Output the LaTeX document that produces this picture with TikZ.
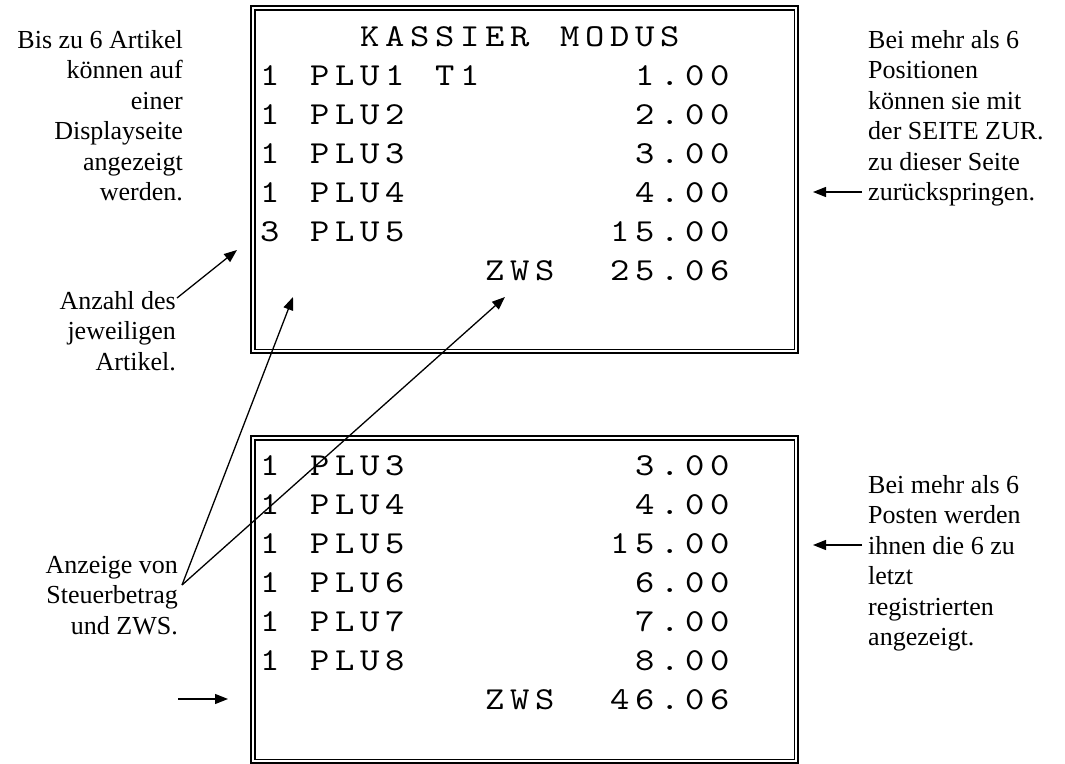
\documentclass[tikz,border=0pt]{standalone}
\usepackage{fontspec}
\setmainfont{Liberation Serif}
\newfontfamily\lcdfont{lmmono10-regular.otf}[FakeStretch=1.15, LetterSpace=17.7]
\usetikzlibrary{arrows.meta}

\begin{document}
\begin{tikzpicture}[
    x=1pt, y=-1pt,
    >={Triangle[length=13pt,width=10pt]},
    note/.style={inner sep=0pt, font=\fontsize{26}{30.5}\selectfont},
    lcd/.style={inner sep=0pt, anchor=base west, font=\fontsize{32}{33}\lcdfont},
    frame/.style={draw, line width=2.2pt, minimum width=547pt, minimum height=#1, inner sep=0pt, anchor=north west},
    line/.style={->, line width=1.3pt}
]
    \useasboundingbox (0,0) rectangle (1065,763);

    % the two displays
    \node[frame=347pt] (topdisp) at (250,5) {};
    \draw[line width=1.3pt] ([shift={(5,5)}]topdisp.north west) rectangle ([shift={(-5,-5)}]topdisp.south east);
    \node[frame=327pt] (botdisp) at (250,435) {};
    \draw[line width=1.3pt] ([shift={(5,5)}]botdisp.north west) rectangle ([shift={(-5,-5)}]botdisp.south east);

    % first page
    \node[lcd] (kassier) at (360,46) {KASSIER};
    \node[lcd] (modus) at (560,46) {MODUS};
    \foreach \n/\cnt/\art/\col/\amt in {1/1/PLU1/15/1.00, 2/1/PLU2/15/2.00, 3/1/PLU3/15/3.00, 4/1/PLU4/15/4.00, 5/3/PLU5/14/15.00}{
        \node[lcd] (tq\n) at (260,46+39*\n) {\cnt};
        \node[lcd] (ti\n) at (310,46+39*\n) {\art};
        \node[lcd] (ta\n) at (260+25*\col,46+39*\n) {\amt};
    }
    \node[lcd] (ttax) at (435,85) {T1};
    \node[lcd] (tzws) at (485,280) {ZWS};
    \node[lcd] (tsum) at (610,280) {25.06};

    % second page
    \foreach \n/\art/\col/\amt in {0/PLU3/15/3.00, 1/PLU4/15/4.00, 2/PLU5/14/15.00, 3/PLU6/15/6.00, 4/PLU7/15/7.00, 5/PLU8/15/8.00}{
        \node[lcd] (bq\n) at (260,475+39*\n) {1};
        \node[lcd] (bi\n) at (310,475+39*\n) {\art};
        \node[lcd] (ba\n) at (260+25*\col,475+39*\n) {\amt};
    }
    \node[lcd] (bzws) at (485,709) {ZWS};
    \node[lcd] (bsum) at (610,709) {46.06};

    % notes
    \node[note, align=right, anchor=north east] (maxart) at (183,30) {Bis zu 6 Artikel\\können auf\\einer\\Displayseite\\angezeigt\\werden.};
    \node[note, align=right, anchor=north east] (count) at (176,291) {Anzahl des\\jeweiligen\\Artikel.};
    \node[note, align=right, anchor=north east] (taxinfo) at (178,556) {Anzeige von\\Steuerbetrag\\und ZWS.};
    \node[note, align=left, anchor=north west] (pageback) at (868,30) {Bei mehr als 6\\Positionen\\können sie mit\\der SEITE ZUR.\\zu dieser Seite\\zurückspringen.};
    \node[note, align=left, anchor=north west] (lastsix) at (868,475) {Bei mehr als 6\\Posten werden\\ihnen die 6 zu\\letzt\\registrierten\\angezeigt.};

    % arrows
    \coordinate (cnttip) at (237,250);
    \coordinate (taxtip) at (293,297);
    \coordinate (sumtip) at (505,297);
    \coordinate (backtip) at (813,192);
    \coordinate (lasttip) at (813,545);
    \coordinate (rowfrom) at (178,699);
    \coordinate (rowto) at (228,699);

    \draw[line] ([shift={(1,7)}]count.north east) -- (cnttip);
    \draw[line] ([shift={(4,29)}]taxinfo.north east) -- (taxtip);
    \draw[line] ([shift={(4,29)}]taxinfo.north east) -- (sumtip);
    \draw[line] ([xshift=-6pt]pageback.west |- backtip) -- (backtip);
    \draw[line] ([xshift=-6pt]lastsix.west |- lasttip) -- (lasttip);
    \draw[line] (rowfrom) -- (rowto);
\end{tikzpicture}
\end{document}
